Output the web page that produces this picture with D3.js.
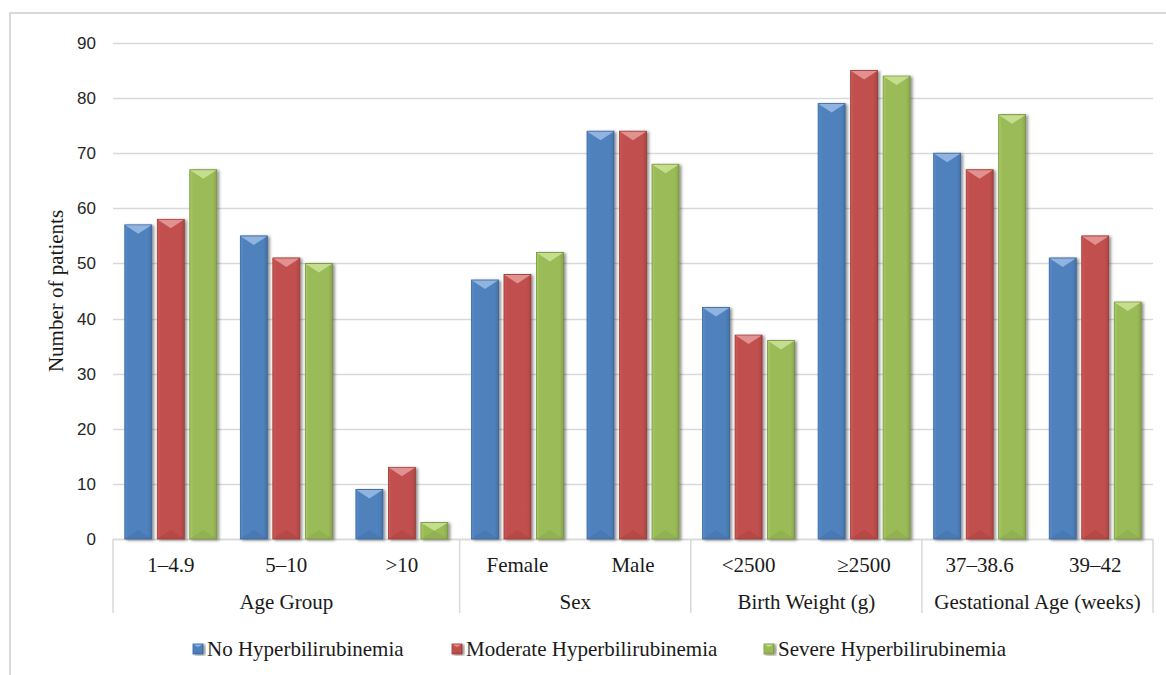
<!DOCTYPE html>
<html>
<head>
<meta charset="utf-8">
<script src="https://cdn.jsdelivr.net/npm/d3@7"></script>
<style>
  html, body { margin: 0; padding: 0; background: #fff; }
  svg { display: block; }
</style>
</head>
<body>
<svg id="chart" width="1166" height="675"></svg>
<script>
// Patient counts by characteristic and hyperbilirubinemia status
const categories = ["1–4.9", "5–10", ">10", "Female", "Male", "<2500", "≥2500", "37–38.6", "39–42"];
const groups = [
  { name: "Age Group", from: 0, to: 3 },
  { name: "Sex", from: 3, to: 5 },
  { name: "Birth Weight (g)", from: 5, to: 7 },
  { name: "Gestational Age (weeks)", from: 7, to: 9 }
];
const seriesNames = ["No Hyperbilirubinemia", "Moderate Hyperbilirubinemia", "Severe Hyperbilirubinemia"];
const noHyper = [57, 55, 9, 47, 74, 42, 79, 70, 51];
const moderateHyper = [58, 51, 13, 48, 74, 37, 85, 67, 55];
const severeHyper = [67, 50, 3, 52, 68, 36, 84, 77, 43];
const yTicks = [0, 10, 20, 30, 40, 50, 60, 70, 80, 90];

const seriesValues = [noHyper, moderateHyper, severeHyper];
const colors = ["#4f81bd", "#c0504d", "#9bbb59"];
const lights = ["#93b6e0", "#e39593", "#c6df90"];
const darks = ["#36639a", "#983734", "#76923c"];

const svg = d3.select("#chart");
const defs = svg.append("defs");

const plotLeft = 113, plotRight = 1153, plotTop = 43, plotBottom = 539;
const serif = "'Liberation Serif', 'Times New Roman', serif";
const sans = "'Liberation Sans', Arial, sans-serif";
const textSize = 21;

const x = d3.scaleBand().domain(categories).range([plotLeft, plotRight]).paddingInner(0).paddingOuter(0);
const xs = d3.scaleBand().domain(d3.range(3)).range([0, x.bandwidth()]).paddingInner(0.17).paddingOuter(0.363);
const y = d3.scaleLinear().domain([0, 90]).range([plotBottom, plotTop]);

// drop shadow for the bars
const f = defs.append("filter").attr("id", "shadow").attr("x", "-30%").attr("y", "-10%").attr("width", "160%").attr("height", "130%");
f.append("feDropShadow").attr("dx", 2).attr("dy", 1).attr("stdDeviation", 1.4).attr("flood-color", "#000").attr("flood-opacity", 0.45);

// horizontal shading across each bar
colors.forEach((c, i) => {
  const g = defs.append("linearGradient").attr("id", "grad" + i).attr("x1", "0").attr("x2", "1").attr("y1", "0").attr("y2", "0");
  g.append("stop").attr("offset", "0").attr("stop-color", d3.color(c).brighter(0.25));
  g.append("stop").attr("offset", "0.12").attr("stop-color", c);
  g.append("stop").attr("offset", "0.85").attr("stop-color", c);
  g.append("stop").attr("offset", "1").attr("stop-color", d3.color(c).darker(0.35));
});

// outer frame
svg.append("path").attr("d", "M10,675 V13 H1166").attr("fill", "none").attr("stroke", "#d9d9d9").attr("stroke-width", 2);

// gridlines
svg.append("g").selectAll("line").data(yTicks).join("line")
  .attr("x1", plotLeft).attr("x2", plotRight)
  .attr("y1", d => Math.round(y(d)) + 0.5).attr("y2", d => Math.round(y(d)) + 0.5)
  .attr("stroke", "#d9d9d9").attr("stroke-width", 1.3);

// y tick labels
svg.append("g").selectAll("text").data(yTicks).join("text")
  .attr("x", 96).attr("y", d => y(d)).attr("dy", "0.35em")
  .attr("text-anchor", "end").attr("font-family", sans).attr("font-size", 17).attr("fill", "#262626")
  .text(d => d);

// y axis title
svg.append("text")
  .attr("transform", `translate(63,${(plotTop + plotBottom) / 2}) rotate(-90)`)
  .attr("text-anchor", "middle").attr("font-family", serif).attr("font-size", textSize).attr("fill", "#1a1a1a")
  .text("Number of patients");

// category axis frame
const axisBottom = 613;
const sepX = [plotLeft].concat(groups.map(g => x(categories[g.to - 1]) + x.bandwidth()));
svg.append("g").selectAll("line").data(sepX).join("line")
  .attr("x1", d => d).attr("x2", d => d).attr("y1", plotBottom).attr("y2", axisBottom)
  .attr("stroke", "#d9d9d9").attr("stroke-width", 1.5);
svg.append("line").attr("x1", plotLeft).attr("x2", plotRight).attr("y1", plotBottom + 0.5).attr("y2", plotBottom + 0.5)
  .attr("stroke", "#d9d9d9").attr("stroke-width", 1.5);

// category labels
svg.append("g").selectAll("text").data(categories).join("text")
  .attr("x", d => x(d) + x.bandwidth() / 2).attr("y", 572)
  .attr("text-anchor", "middle").attr("font-family", serif).attr("font-size", textSize).attr("fill", "#1a1a1a")
  .text(d => d);

// group labels
svg.append("g").selectAll("text").data(groups).join("text")
  .attr("x", g => (x(categories[g.from]) + x(categories[g.to - 1]) + x.bandwidth()) / 2).attr("y", 609)
  .attr("text-anchor", "middle").attr("font-family", serif).attr("font-size", textSize).attr("fill", "#1a1a1a")
  .text(g => g.name);

// bevelled bar
function drawBar(sel, bx, by, w, h, i, capMax) {
  const g = sel.append("g");
  g.append("rect").attr("x", bx).attr("y", by).attr("width", w).attr("height", h)
    .attr("fill", `url(#grad${i})`).attr("stroke", darks[i]).attr("stroke-width", 0.8).attr("filter", "url(#shadow)");
  const cap = Math.min(capMax, h / 2);
  g.append("path")
    .attr("d", `M${bx + 0.5},${by + 0.5} L${bx + w - 0.5},${by + 0.5} L${bx + w / 2},${by + cap} Z`)
    .attr("fill", lights[i]).attr("opacity", 0.95);
  g.append("path")
    .attr("d", `M${bx + 0.5},${by + h - 0.5} L${bx + w - 0.5},${by + h - 0.5} L${bx + w / 2},${by + h - cap} Z`)
    .attr("fill", darks[i]).attr("opacity", 0.25);
}

const bars = svg.append("g");
categories.forEach((c, ci) => {
  seriesValues.forEach((vals, si) => {
    const v = vals[ci];
    const bx = x(c) + xs(si);
    drawBar(bars, bx, y(v), xs.bandwidth(), y(0) - y(v), si, 9);
  });
});

// legend
const legendX = [193, 452, 764];
const legend = svg.append("g");
seriesNames.forEach((name, i) => {
  const lg = legend.append("g");
  drawBar(lg, legendX[i], 644, 10, 10, i, 3);
  lg.append("text").attr("x", legendX[i] + 14).attr("y", 656)
    .attr("font-family", serif).attr("font-size", textSize).attr("fill", "#1a1a1a")
    .text(name);
});
</script>
</body>
</html>
